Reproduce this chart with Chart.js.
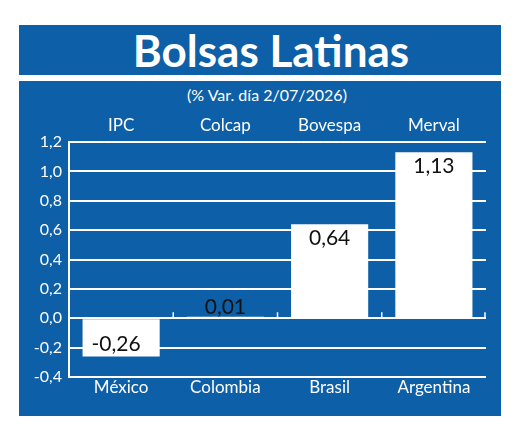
<!DOCTYPE html>
<html>
<head>
<meta charset="utf-8">
<script src="https://cdn.jsdelivr.net/npm/chart.js@4.4.1/dist/chart.umd.min.js"></script>
<style>
  body { margin: 0; width: 520px; height: 434px; background: #fff; position: relative; overflow: hidden; font-family: Lato, sans-serif; }
  #title { position: absolute; left: 19px; top: 25px; width: 482px; height: 50px; background: #0d5fa7; color: #fff;
           font-weight: bold; font-size: 44px; line-height: 50px; text-align: center; text-indent: 22px; }
  #panel { position: absolute; left: 19px; top: 81px; width: 482px; height: 335px; background: #0d5fa7; }
  #sub { position: absolute; left: 0; top: 4px; width: 482px; text-align: center; text-indent: 14px; color: #fff; font-size: 16px; }
  #chart { position: absolute; left: 0; top: 0; }
</style>
</head>
<body>
<div id="title">Bolsas Latinas</div>
<div id="panel">
  <div id="sub">(% Var. día 2/07/2026)</div>
  <canvas id="chart" width="482" height="335"></canvas>
</div>
<script>
document.addEventListener("DOMContentLoaded", function () {
    // Data for the chart
    const countries = ["México", "Colombia", "Brasil", "Argentina"];
    const indices = ["IPC", "Colcap", "Bovespa", "Merval"];
    const changes = [-0.26, 0.01, 0.64, 1.13];
    const yMin = -0.4, yMax = 1.2, yStep = 0.2;

    const fmt = v => v.toFixed(2).replace(".", ",");

    // value labels on the bars
    const barLabels = {
        id: "barLabels",
        afterDatasetsDraw(chart) {
            const ctx = chart.ctx;
            const meta = chart.getDatasetMeta(0);
            ctx.save();
            ctx.font = "21px Lato";
            ctx.fillStyle = "#111";
            ctx.textAlign = "center";
            ctx.textBaseline = "middle";
            meta.data.forEach((bar, i) => {
                const v = changes[i];
                let y;
                if (v >= 0.1) y = bar.y + 14;
                else if (v < 0) y = bar.y - 12;
                else y = bar.y - 10;
                ctx.fillText(fmt(v), bar.x - (v < 0 ? 5 : 0), y);
            });
            ctx.restore();
        }
    };

    // little ticks on the zero line between categories
    const zeroTicks = {
        id: "zeroTicks",
        afterDatasetsDraw(chart) {
            const ctx = chart.ctx;
            const x = chart.scales.x, y = chart.scales.y;
            const y0 = y.getPixelForValue(0);
            ctx.save();
            ctx.strokeStyle = "#fff";
            ctx.lineWidth = 1.5;
            for (let i = 0; i < countries.length; i++) {
                const bx = i < countries.length - 1
                    ? (x.getPixelForValue(i) + x.getPixelForValue(i + 1)) / 2
                    : chart.chartArea.right - 1;
                ctx.beginPath();
                ctx.moveTo(bx, y0 - 6);
                ctx.lineTo(bx, y0);
                ctx.stroke();
            }
            ctx.restore();
        }
    };

    const config = {
        type: "bar",
        data: {
            labels: countries,
            datasets: [{
                data: changes,
                backgroundColor: "#fff",
                borderWidth: 0,
                categoryPercentage: 1,
                barPercentage: 0.74
            }]
        },
        options: {
            responsive: false,
            animation: false,
            layout: { padding: { left: 0, right: 15, top: 0, bottom: 0 } },
            plugins: { legend: { display: false }, tooltip: { enabled: false } },
            scales: {
                x: {
                    position: "bottom",
                    grid: { display: false, drawTicks: false },
                    border: { display: false },
                    ticks: { color: "#fff", font: { family: "Lato", size: 17 }, padding: 0 },
                    afterFit: s => { s.height = 39; }
                },
                x2: {
                    type: "category",
                    labels: indices,
                    position: "top",
                    offset: true,
                    grid: { display: false, drawTicks: false },
                    border: { display: false },
                    ticks: { color: "#fff", font: { family: "Lato", size: 17 }, padding: 6 },
                    afterFit: s => { s.height = 61; }
                },
                y: {
                    min: yMin,
                    max: yMax,
                    ticks: {
                        stepSize: yStep,
                        color: "#fff",
                        font: { family: "Lato", size: 16 },
                        padding: 7,
                        callback: v => v.toFixed(1).replace(".", ",")
                    },
                    grid: { color: "#fff", lineWidth: 2, drawTicks: false },
                    border: { color: "#fff", width: 2 },
                    afterFit: s => { s.width = 50; }
                }
            }
        },
        plugins: [barLabels, zeroTicks]
    };

    new Chart(document.getElementById("chart"), config);
});
</script>
</body>
</html>
